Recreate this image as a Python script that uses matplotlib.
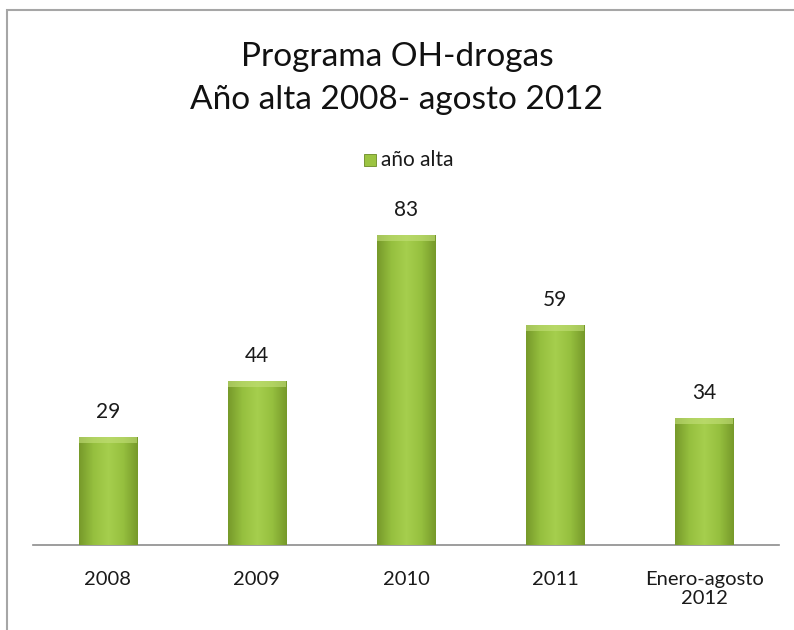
import matplotlib.pyplot as plt
import numpy as np
from matplotlib.patches import Rectangle
from matplotlib.colors import LinearSegmentedColormap

categories = ['2008', '2009', '2010', '2011', 'Enero-agosto\n2012']
values = [29, 44, 83, 59, 34]
series_name = 'año alta'

plt.rcParams['font.family'] = ['Lato', 'DejaVu Sans']

fig = plt.figure(figsize=(7.94, 6.3), dpi=100)
ax = fig.add_axes([0.0416, 0.135, 0.9395, 0.533])

# chart frame
fig.patches.append(Rectangle((7 / 794, -0.05), 1.1, 1 - 10 / 630 + 0.05,
                             transform=fig.transFigure, fill=False,
                             edgecolor='#a6a6a6', linewidth=1.5))

green = LinearSegmentedColormap.from_list(
    'bar', ['#76992a', '#96c03f', '#a6cf4e', '#96c03f', '#76992a'])
grad = np.linspace(0, 1, 256).reshape(1, -1)

x = np.arange(len(categories))
bars = ax.bar(x, values, width=0.39, color='#9cc442', edgecolor='#6a8a24',
              linewidth=0.6, zorder=2)
for b, v in zip(bars, values):
    x0, w = b.get_x(), b.get_width()
    im = ax.imshow(grad, cmap=green, aspect='auto', zorder=3,
                   extent=(x0, x0 + w, 0, v))
    im.set_clip_path(b)
    # lighter bevel along the top
    ax.add_patch(Rectangle((x0, v - 1.6), w, 1.6, facecolor='#c4e07a',
                           alpha=0.6, edgecolor='none', zorder=4))
    ax.text(b.get_x() + w / 2, v + 4, str(v), ha='center', va='bottom',
            fontsize=15, color='#1a1a1a')

ax.set_xlim(-0.5, len(categories) - 0.5)
ax.set_ylim(0, 90)
ax.set_xticks(x)
ax.set_xticklabels(categories, fontsize=14.5, color='#1a1a1a', linespacing=1.12)
ax.tick_params(axis='x', length=0, pad=19)
ax.set_yticks([])
for s in ['top', 'right', 'left']:
    ax.spines[s].set_visible(False)
ax.spines['bottom'].set_color('#8c8c8c')
ax.spines['bottom'].set_linewidth(1.2)

fig.text(0.5, 1 - 57 / 630, 'Programa OH-drogas', ha='center', va='center',
         fontsize=24, color='#111111')
fig.text(0.5, 1 - 100 / 630, 'Año alta 2008- agosto 2012', ha='center',
         va='center', fontsize=24, color='#111111')

# legend
fig.patches.append(Rectangle((364 / 794, 1 - 166 / 630), 12 / 794, 12 / 630,
                             transform=fig.transFigure, facecolor='#9cc442',
                             edgecolor='#6a8a24', linewidth=0.6))
fig.text(381 / 794, 1 - 160 / 630, series_name, ha='left', va='center',
         fontsize=15, color='#1a1a1a')

fig.savefig('out.png', dpi=100)
